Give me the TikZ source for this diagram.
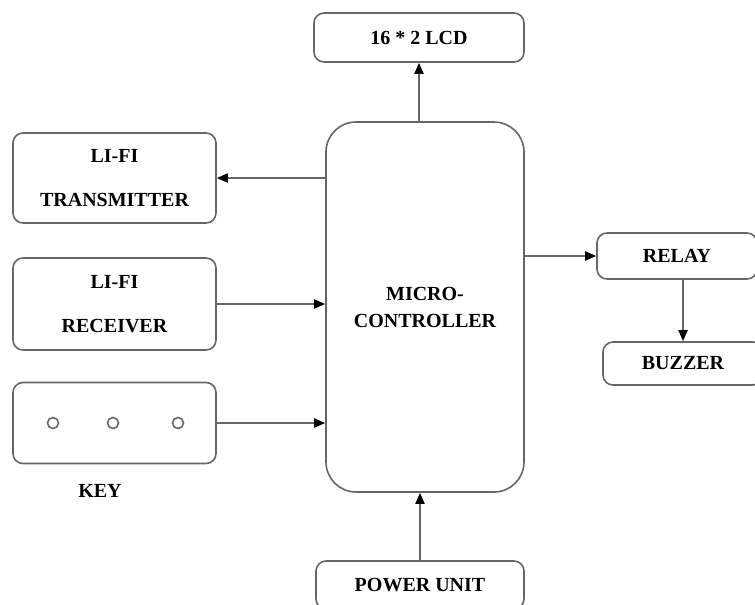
\documentclass[tikz,border=0pt]{standalone}
\usepackage{fontspec}
\setmainfont{Liberation Serif}
\usetikzlibrary{arrows.meta}

\begin{document}
\begin{tikzpicture}[x=1pt,y=-1pt,>={Triangle[length=11pt,width=9pt,color=black]},line cap=round,
  blk/.style={draw=gray!80!black,line width=1.6pt,rounded corners=10pt,inner sep=0pt,
    font=\fontsize{20}{44}\selectfont\bfseries,align=center,text=black},
  link/.style={->,draw=black!60,line width=1.8pt}]
\useasboundingbox (0,0) rectangle (755,605);
\clip (0,0) rectangle (755,605);
\node[blk,minimum width=210pt,minimum height=49pt] (lcd) at (419,37.5) {16 * 2 LCD};
\node[blk,rounded corners=30pt,minimum width=198pt,minimum height=370pt,
  font=\fontsize{20}{27}\selectfont\bfseries] (micro) at (425,307) {MICRO-\\CONTROLLER};
\node[blk,minimum width=203pt,minimum height=90pt] (tx) at (114.5,178) {LI-FI\\TRANSMITTER};
\node[blk,minimum width=203pt,minimum height=92pt] (rx) at (114.5,304) {LI-FI\\RECEIVER};
\node[blk,minimum width=203pt,minimum height=81pt] (key) at (114.5,423) {};
\node[font=\fontsize{20}{22}\selectfont\bfseries,text=black] (keylabel) at (100,491) {KEY};
\node[blk,minimum width=160pt,minimum height=46pt] (relay) at (677,256) {RELAY};
\node[blk,minimum width=160pt,minimum height=43pt] (buzzer) at (683,363.5) {BUZZER};
\node[blk,minimum width=208pt,minimum height=48pt] (power) at (420,585) {POWER UNIT};
% push buttons
\foreach \x in {53,113,178}
  \draw[gray!80!black,line width=1.6pt] (\x,423) circle (5.5pt);
% links
\draw[link] (lcd.south |- micro.north) -- (lcd.south);
\draw[link] (micro.west |- tx.east) -- (tx.east);
\draw[link] (rx.east) -- (rx.east -| micro.west);
\draw[link] (key.east) -- (key.east -| micro.west);
\draw[link] (micro.east |- relay.west) -- (relay.west);
\draw[link] (buzzer.north |- relay.south) -- (buzzer.north);
\draw[link] (power.north) -- (power.north |- micro.south);
\end{tikzpicture}
\end{document}
